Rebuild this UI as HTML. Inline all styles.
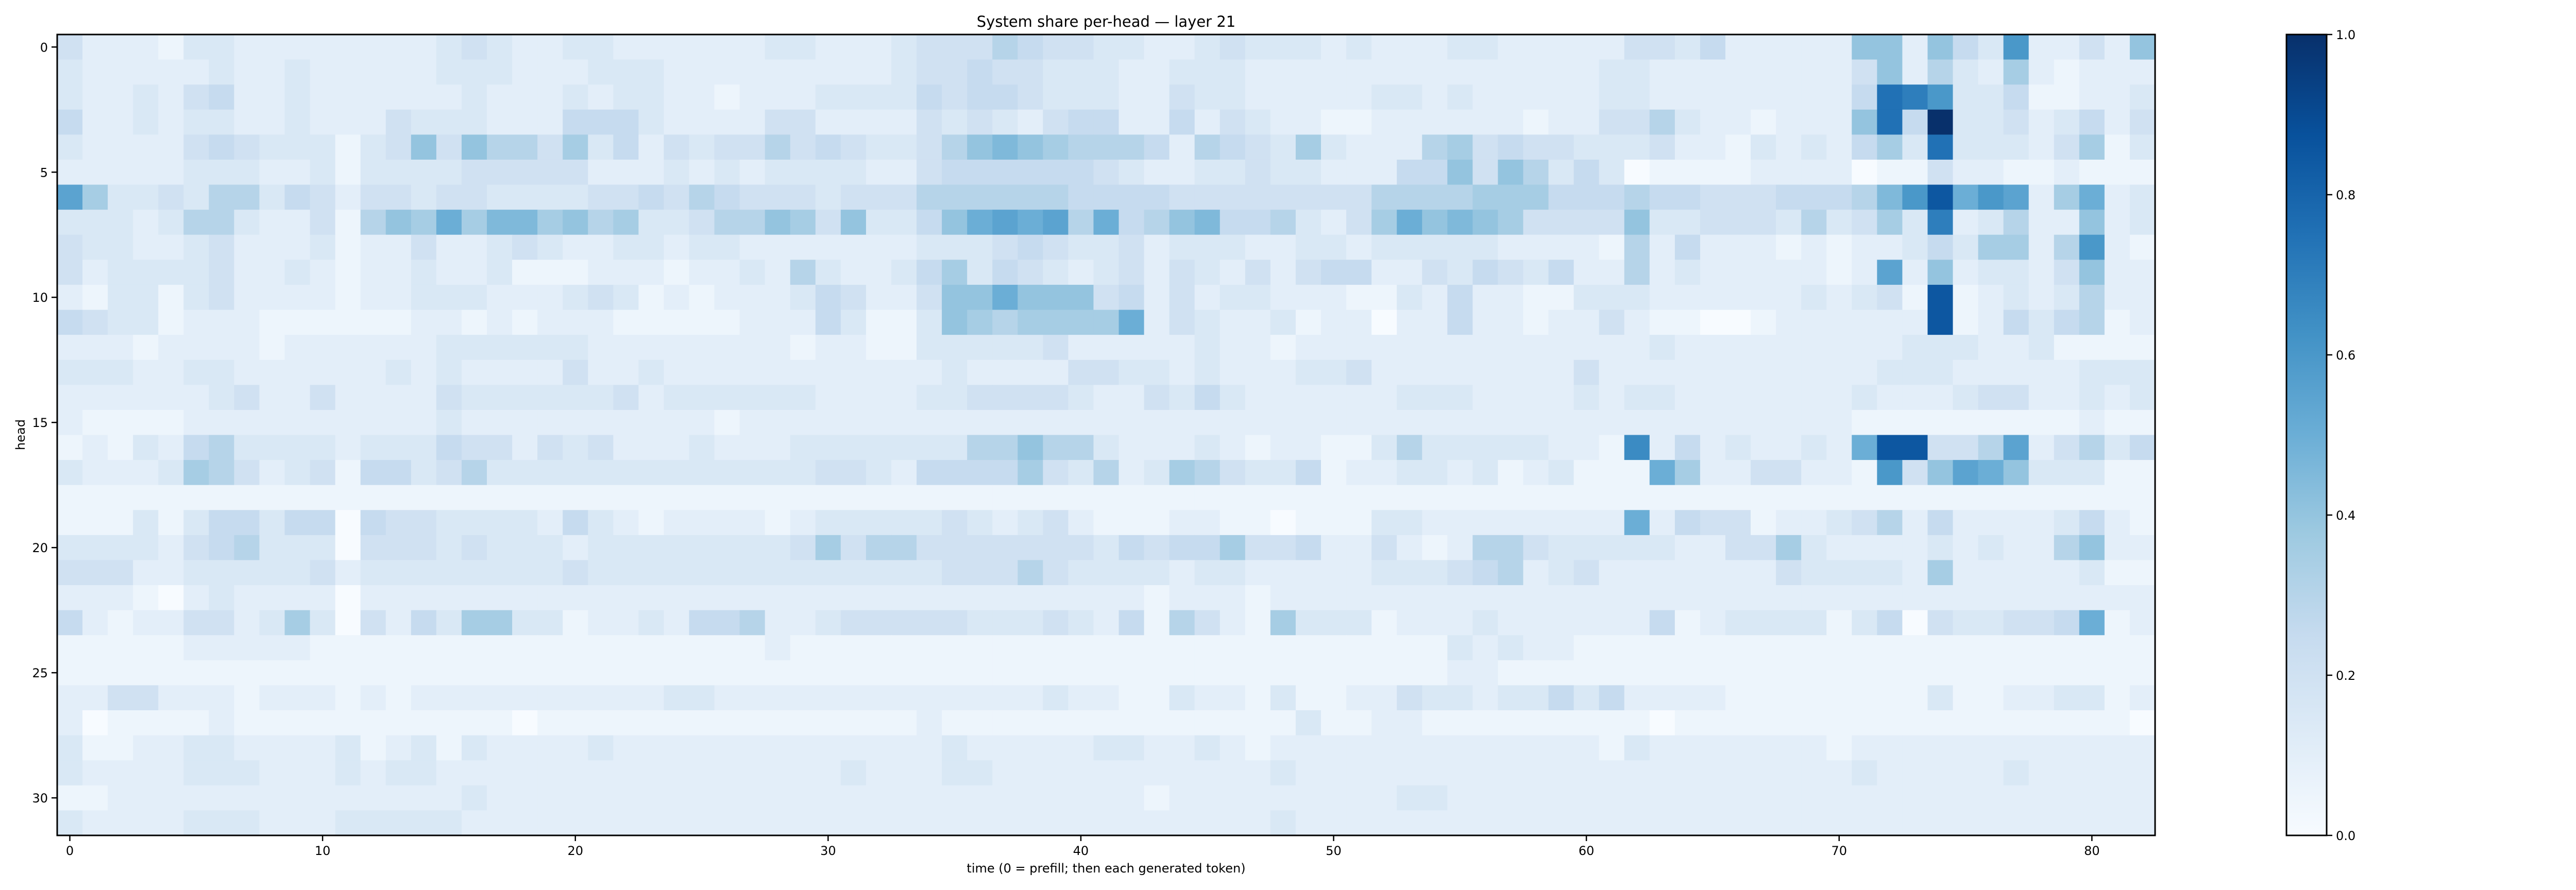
<!DOCTYPE html>
<html><head><meta charset="utf-8"><title>System share per-head — layer 21</title>
<style>
html,body{margin:0;padding:0;background:#fff;}
svg{display:block;font-family:"DejaVu Sans","Liberation Sans",sans-serif;}
</style></head>
<body>
<svg id="chart" width="5228" height="1728" viewBox="0 0 5228 1728" xmlns="http://www.w3.org/2000/svg">
<defs>
<linearGradient id="cbgrad" x1="0" y1="1" x2="0" y2="0">
<stop offset="0" stop-color="#f7fbff"/><stop offset="0.125" stop-color="#deebf7"/><stop offset="0.25" stop-color="#c6dbef"/><stop offset="0.375" stop-color="#9ecae1"/><stop offset="0.5" stop-color="#6baed6"/><stop offset="0.625" stop-color="#4292c6"/><stop offset="0.75" stop-color="#2171b5"/><stop offset="0.875" stop-color="#08519c"/><stop offset="1" stop-color="#08306b"/>
</linearGradient>
</defs>
<g id="cells"></g>
<rect x="111" y="67" width="4072" height="1555" fill="none" stroke="#000" stroke-width="3"/>
<g id="xticks"></g>
<g id="yticks"></g>
<text x="2147" y="52" font-size="29" text-anchor="middle">System share per-head — layer 21</text>
<text x="2147" y="1694" font-size="24" text-anchor="middle">time (0 = prefill; then each generated token)</text>
<text x="0" y="0" font-size="24" text-anchor="middle" transform="translate(48,844) rotate(-90)">head</text>
<rect x="4438" y="67" width="78" height="1555" fill="url(#cbgrad)" stroke="#000" stroke-width="3"/>
<g id="cbticks"></g>
</svg>
<script>
// value codes: parseInt(char,36)/20  (e.g. '2'=0.10, '4'=0.20, 'A'=0.50, 'K'=1.00)
const rows = [
"4222133222"+"2222234322"+"3322222233"+"2223444654"+"43"+"3223433323"+"2223322222"+"4435222228"+"82853C2242"+"8",
"3222223223"+"2222233322"+"2333222222"+"2223445443"+"33"+"2233322222"+"2222222223"+"3222222224"+"8263272122"+"2",
"3223245223"+"2222223222"+"3233221222"+"3333545543"+"33"+"2243322222"+"3323222223"+"3222222225"+"FEC3351122"+"3",
"5223233223"+"2224333222"+"5553222244"+"2222434324"+"55"+"2252432211"+"2222221224"+"4632212228"+"F5K3342352"+"4",
"3222245433"+"3134848664"+"7352434464"+"5433468987"+"66"+"6526543732"+"2267454433"+"3422132325"+"73F3332471"+"3",
"2222233322"+"3133334444"+"4222323233"+"3322455555"+"54"+"3223343322"+"2558486353"+"0111122220"+"1142211211"+"1",
"B733436635"+"4244344333"+"3445465444"+"3444666666"+"55"+"5544444444"+"6666777555"+"6554445556"+"9CHACB27A2"+"3",
"3332366322"+"41687A7997"+"8673346687"+"483358ABAB"+"6A"+"5689556324"+"7A89874444"+"8334443634"+"73E2362282"+"3",
"4332234222"+"3122422343"+"2233233222"+"2222333454"+"33"+"4233322332"+"3333322221"+"6252221212"+"23537726C2"+"1",
"4233334223"+"2122322311"+"1222122326"+"3223573543"+"23"+"4243242455"+"2243543522"+"6232222212"+"B282332482"+"2",
"2133134222"+"2122333222"+"3431212223"+"5422488A88"+"84"+"5242332221"+"1325221133"+"3222222323"+"41H1232362"+"2",
"5433122211"+"1111221212"+"2211111222"+"5311387677"+"77"+"A243223122"+"0225221224"+"2110012222"+"22H1253561"+"2",
"2221222212"+"2222233333"+"3222222221"+"2211333334"+"22"+"2223221222"+"2222222222"+"2322222222"+"2333223111"+"1",
"3332233222"+"2223232222"+"4223222222"+"2222232222"+"44"+"3323222334"+"2222222242"+"2222222222"+"3332222233"+"3",
"2222223422"+"4222243333"+"3342333333"+"2222334444"+"32"+"2435322222"+"2333222232"+"3322222223"+"2223442232"+"3",
"2111122222"+"2222232222"+"2222221222"+"2222222222"+"22"+"2222222222"+"2222222222"+"2222222221"+"1111111121"+"1",
"1213256333"+"3233354424"+"3422232223"+"3333336686"+"63"+"2223212211"+"3633333221"+"D25232232A"+"HH446B2463"+"5",
"3222376423"+"4155346333"+"3333333333"+"4432555574"+"36"+"2376433512"+"2332312311"+"1A72244221"+"C48BA83331"+"1",
"1111111111"+"1111111111"+"1111111111"+"1111111111"+"11"+"1111111111"+"1111111111"+"1111111111"+"1111111111"+"1",
"1113135535"+"5054433332"+"5321222212"+"3333343234"+"21"+"1122110111"+"3322222222"+"A254412234"+"6252222352"+"1",
"3333245633"+"3044434333"+"2333333334"+"7466444444"+"43"+"5455744522"+"4212664333"+"3322447322"+"2232322682"+"2",
"4442233333"+"4233333333"+"4333333333"+"3333344464"+"33"+"3323322222"+"3334562342"+"2222224333"+"3272222231"+"1",
"2221023222"+"2022222222"+"2222222222"+"2222222222"+"22"+"2122212222"+"2222222222"+"2222222222"+"2222222222"+"2",
"5212244237"+"3042537733"+"1223255622"+"3444443334"+"32"+"5164217333"+"1222322222"+"2512333313"+"50433445A1"+"2",
"1111122222"+"1111111111"+"1111111121"+"1111111111"+"11"+"1111111111"+"1113232211"+"1111111111"+"1111111111"+"1",
"1111111111"+"1111111111"+"1111111111"+"1111111111"+"11"+"1111111111"+"1112211111"+"1111111111"+"1111111111"+"1",
"2244222122"+"2121222222"+"2222332222"+"2222222223"+"22"+"1132213112"+"2433233535"+"2222111111"+"1131122331"+"2",
"2011112111"+"1111111101"+"1111111111"+"1111211111"+"11"+"1111111311"+"2211111111"+"1011111111"+"1111111111"+"0",
"3112233222"+"2312313222"+"2322222222"+"2222232222"+"23"+"3223212222"+"2222222221"+"3222222212"+"2222222222"+"2",
"3222233322"+"2323322222"+"2222222222"+"2322233222"+"22"+"2222223222"+"2222222222"+"2222222223"+"2222232222"+"2",
"1122222222"+"2222223222"+"2222222222"+"2222222222"+"22"+"2122222222"+"2332222222"+"2222222222"+"2222222222"+"2",
"3222233322"+"2333332222"+"2222222222"+"2222222222"+"22"+"2222223222"+"2222222222"+"2222222222"+"2222222222"+"2"
];
const xTickLabels = ["0","10","20","30","40","50","60","70","80"];
const yTickLabels = ["0","5","10","15","20","25","30"];
const cbTickLabels = ["0.0","0.2","0.4","0.6","0.8","1.0"];

const NS = "http://www.w3.org/2000/svg";
const nCols = 83, nRows = rows.length;
const X0 = 111, X1 = 4183, Y0 = 67, Y1 = 1622;
const cw = (X1 - X0) / nCols, rh = (Y1 - Y0) / nRows;
const xPos = c => X0 + c * cw;
const yPos = r => Y0 + r * rh;
const stops = ["#f7fbff","#deebf7","#c6dbef","#9ecae1","#6baed6","#4292c6","#2171b5","#08519c","#08306b"];
function hex(h){return [1,3,5].map(i=>parseInt(h.substr(i,2),16));}
function blues(v){
  v = Math.max(0, Math.min(1, v));
  const t = v * (stops.length - 1), i = Math.min(Math.floor(t), stops.length - 2), f = t - i;
  const a = hex(stops[i]), b = hex(stops[i+1]);
  return "rgb(" + a.map((x,k)=>Math.round(x + (b[k]-x)*f)).join(",") + ")";
}
function el(tag, attrs){const e = document.createElementNS(NS, tag); for (const k in attrs) e.setAttribute(k, attrs[k]); return e;}

const cells = document.getElementById("cells");
rows.forEach((row, r) => {
  for (let c = 0; c < nCols; c++) {
    const ch = row[c] || "2";
    const v = parseInt(ch, 36) / 20;
    const rect = el("rect", {x: xPos(c), y: yPos(r), width: cw + 0.6, height: rh + 0.6, fill: blues(v)});
    
    
    cells.appendChild(rect);
  }
});

const xg = document.getElementById("xticks");
xTickLabels.forEach(lab => {
  const x = xPos(+lab + 0.5);
  const t = el("line", {x1: x, x2: x, y1: Y1, y2: Y1 + 11, stroke: "#000", "stroke-width": 2.5});
  
  
  xg.appendChild(t);
  const tx = el("text", {x: x, y: 1660, "font-size": 24, "text-anchor": "middle"});
  tx.textContent = lab;
  
  
  xg.appendChild(tx);
});
const yg = document.getElementById("yticks");
yTickLabels.forEach(lab => {
  const y = yPos(+lab + 0.5);
  const t = el("line", {x1: X0 - 11, x2: X0, y1: y, y2: y, stroke: "#000", "stroke-width": 2.5});
  
  
  yg.appendChild(t);
  const tx = el("text", {x: 93, y: y + 9, "font-size": 24, "text-anchor": "end"});
  tx.textContent = lab;
  
  
  yg.appendChild(tx);
});
const cg = document.getElementById("cbticks");
cbTickLabels.forEach(lab => {
  const y = Y1 - (+lab) * (Y1 - Y0);
  const t = el("line", {x1: 4516, x2: 4527, y1: y, y2: y, stroke: "#000", "stroke-width": 2.5});
  
  
  cg.appendChild(t);
  const tx = el("text", {x: 4534, y: y + 9, "font-size": 24, "text-anchor": "start"});
  tx.textContent = lab;
  
  
  cg.appendChild(tx);
});
</script>
</body></html>
